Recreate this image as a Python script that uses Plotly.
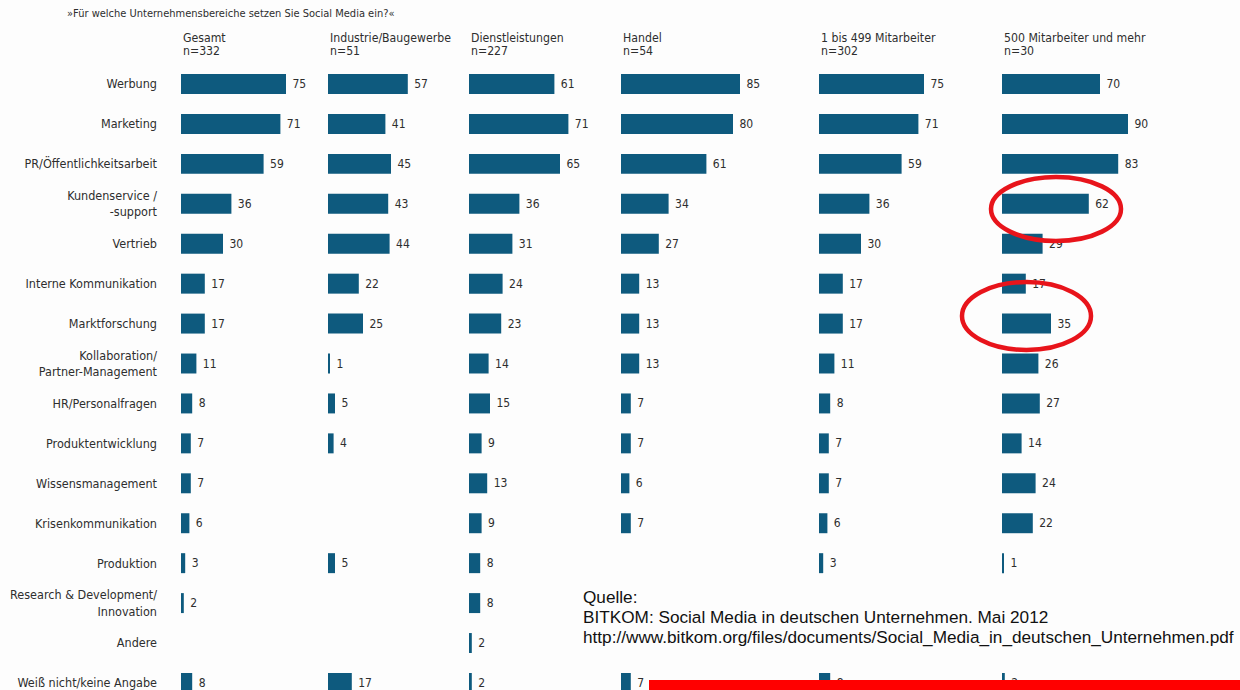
import plotly.graph_objects as go

# ---------------- data ----------------
question = "»Für welche Unternehmensbereiche setzen Sie Social Media ein?«"

categories = [
    "Werbung",
    "Marketing",
    "PR/Öffentlichkeitsarbeit",
    "Kundenservice /<br>-support",
    "Vertrieb",
    "Interne Kommunikation",
    "Marktforschung",
    "Kollaboration/<br>Partner-Management",
    "HR/Personalfragen",
    "Produktentwicklung",
    "Wissensmanagement",
    "Krisenkommunikation",
    "Produktion",
    "Research & Development/<br>Innovation",
    "Andere",
    "Weiß nicht/keine Angabe",
]

group_names = ["Gesamt", "Industrie/Baugewerbe", "Dienstleistungen", "Handel",
               "1 bis 499 Mitarbeiter", "500 Mitarbeiter und mehr"]
group_n = ["n=332", "n=51", "n=227", "n=54", "n=302", "n=30"]

gesamt = [75, 71, 59, 36, 30, 17, 17, 11, 8, 7, 7, 6, 3, 2, None, 8]
industrie = [57, 41, 45, 43, 44, 22, 25, 1, 5, 4, None, None, 5, None, None, 17]
dienstleistungen = [61, 71, 65, 36, 31, 24, 23, 14, 15, 9, 13, 9, 8, 8, 2, 2]
handel = [85, 80, 61, 34, 27, 13, 13, 13, 7, 7, 6, 7, None, None, None, 7]
klein = [75, 71, 59, 36, 30, 17, 17, 11, 8, 7, 7, 6, 3, None, None, 8]
gross = [70, 90, 83, 62, 29, 17, 35, 26, 27, 14, 24, 22, 1, None, None, 2]

series = [gesamt, industrie, dienstleistungen, handel, klein, gross]

source_lines = [
    "Quelle:",
    "BITKOM: Social Media in deutschen Unternehmen. Mai 2012",
    "http://www.bitkom.org/files/documents/Social_Media_in_deutschen_Unternehmen.pdf",
]

# ---------------- layout helpers ----------------
W, H = 1240, 690
col_start = [181, 328, 469, 621, 819, 1002]   # pixel left edge of each panel
px_per_unit = 1.4
BAR = "#0e5a7e"
TXT = "#2e2e2e"
FONT = "DejaVu Sans Condensed, Liberation Sans, sans-serif"

fig = go.Figure()

for i, vals in enumerate(series):
    xa = "x" if i == 0 else f"x{i+1}"
    fig.add_trace(go.Bar(
        y=categories,
        x=vals,
        orientation="h",
        xaxis=xa,
        yaxis="y",
        width=0.5,
        marker=dict(color=BAR, line=dict(width=0)),
        text=[(" " + str(v)) if v is not None else "" for v in vals],
        textposition="outside",
        textfont=dict(family=FONT, size=12, color=TXT),
        cliponaxis=False,
        constraintext="none",
        hoverinfo="skip",
        showlegend=False,
    ))

layout_axes = {}
for i in range(6):
    x0 = col_start[i]
    x1 = col_start[i + 1] - 4 if i < 5 else W - 2
    name = "xaxis" if i == 0 else f"xaxis{i+1}"
    layout_axes[name] = dict(
        domain=[x0 / W, x1 / W],
        range=[0, (x1 - x0) / px_per_unit],
        anchor="y",
        visible=False,
        automargin=False,
        fixedrange=True,
    )

# row 0 centred at 84 px, spacing 39.93 px
row0, step = 84.0, 39.93
y_top = (0 - row0) / step
y_bot = (H - row0) / step

fig.update_layout(
    width=W, height=H,
    margin=dict(l=0, r=0, t=0, b=0, pad=0, autoexpand=False),
    paper_bgcolor="#fdfdfd",
    plot_bgcolor="rgba(0,0,0,0)",
    barmode="overlay",
    yaxis=dict(
        type="category",
        categoryorder="array",
        categoryarray=categories,
        range=[y_bot, y_top],
        domain=[0, 1],
        anchor="x",
        automargin=False,
        showgrid=False, zeroline=False, showline=False, ticks="",
        ticklabelstandoff=23,
        tickfont=dict(family=FONT, size=12.5, color=TXT),
        fixedrange=True,
    ),
    **layout_axes,
)

annotations = [
    dict(text=question, x=65 / W, y=1 - 14 / H, xref="paper", yref="paper",
         xanchor="left", yanchor="middle", showarrow=False,
         font=dict(family=FONT, size=11, color=TXT)),
]
for i in range(6):
    annotations.append(dict(text=group_names[i], x=col_start[i] / W, y=1 - 38 / H,
                            xref="paper", yref="paper", xanchor="left", yanchor="middle",
                            showarrow=False, font=dict(family=FONT, size=12.2, color=TXT)))
    annotations.append(dict(text=group_n[i], x=col_start[i] / W, y=1 - 51 / H,
                            xref="paper", yref="paper", xanchor="left", yanchor="middle",
                            showarrow=False, font=dict(family=FONT, size=12.2, color=TXT)))

src_y = [597, 617, 637]
for line, yy in zip(source_lines, src_y):
    annotations.append(dict(text=line, x=581 / W, y=1 - yy / H,
                            xref="paper", yref="paper", xanchor="left", yanchor="middle",
                            align="left", showarrow=False,
                            font=dict(family="Liberation Sans, Arial, sans-serif", size=17.2,
                                      color="#111111")))
fig.update_layout(annotations=annotations)

RED = "#e8141b"
def px(x):
    return x / W
def py(y):
    return 1 - y / H

fig.add_shape(type="circle", xref="paper", yref="paper",
              x0=px(991), x1=px(1121), y0=py(177), y1=py(241),
              line=dict(color=RED, width=4.5))
fig.add_shape(type="circle", xref="paper", yref="paper",
              x0=px(962), x1=px(1091), y0=py(282), y1=py(350),
              line=dict(color=RED, width=4.5))
fig.add_shape(type="rect", xref="paper", yref="paper",
              x0=px(649), x1=px(1240), y0=py(690), y1=py(680),
              fillcolor="#ff0000", line=dict(width=0))

fig.write_html("out.html")
